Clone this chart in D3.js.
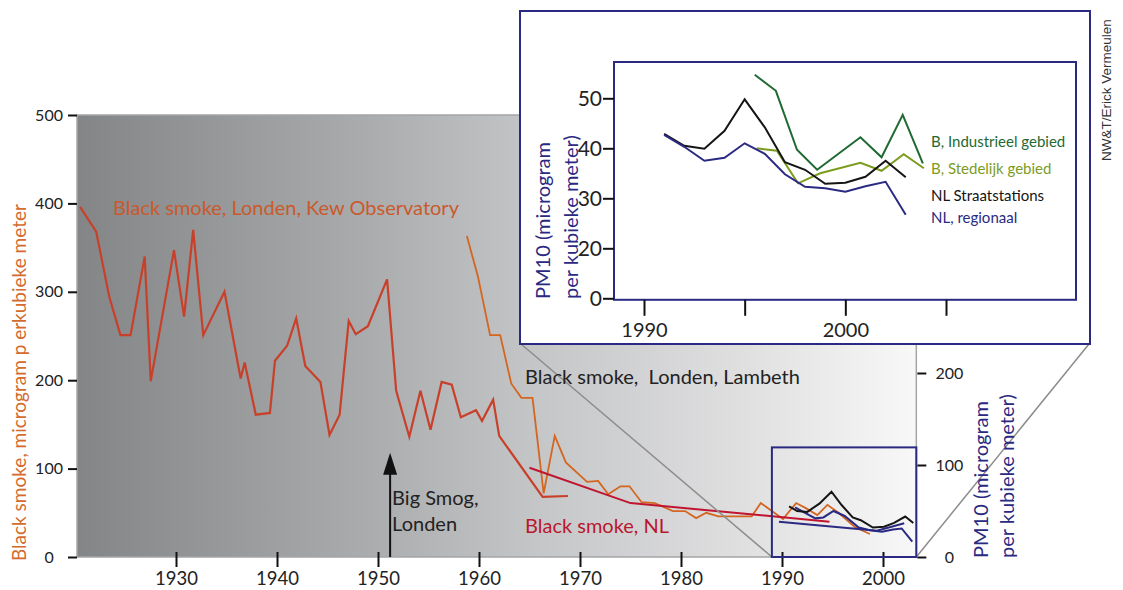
<!DOCTYPE html>
<html><head><meta charset="utf-8">
<script src="https://cdn.jsdelivr.net/npm/d3@7"></script>
<style>
body{margin:0;background:#fff;}
text{font-family:Lato,'Open Sans',sans-serif;}
</style>
</head><body>
<svg id="c" width="1123" height="590"></svg>
<script>
// ---- Data: main chart (black smoke, microgram per m3, left axis) ----
const kewYears = [1920.5,1922.1,1923.4,1924.5,1925.5,1926.9,1927.5,1929.8,1930.8,1931.7,1932.7,1934.8,1936.4,1936.8,1937.9,1939.3,1939.8,1941.0,1941.9,1942.8,1944.3,1945.2,1946.2,1947.1,1947.8,1949.0,1950.9,1951.8,1953.1,1954.2,1955.2,1956.3,1957.3,1958.2,1959.7,1960.3,1961.4,1962.0,1966.3,1968.8];
const kewValues = [396,368,294,251,251,340,199,347,272,370,251,300,202,220,161,163,222,239,270,216,198,138,161,267,252,261,314,188,136,188,144,198,195,158,166,154,178,137,68,69];

const lambethYears = [1958.8,1959.9,1961.1,1962.1,1963.2,1964.2,1965.3,1966.4,1967.5,1968.6,1970.7,1971.8,1972.8,1974.0,1974.9,1976.1,1977.4,1979.2,1980.4,1981.5,1982.5,1983.7,1987.0,1987.9,1990.1,1991.4,1992.4,1993.5,1994.5,1995.6,1997.2,1998.7];
const lambethValues = [363,317,251,251,196,180,180,72,137,107,85,86,71,80,80,62,61,52,52,44,50,46,46,61,43,61,55,47.5,59,50,34,26];

const nlYears = [1965,1975,1994.7];
const nlValues = [101,61,40];

// ---- Data: PM10 in main chart (right axis) ----
const straatMainYears = [1990.7,1991.5,1992.5,1993.7,1994.9,1995.9,1997.0,1997.8,1999.0,2000.1,2001.1,2002.2,2003.0];
const straatMainValues = [55,50,49,58,71,56.5,43,40,32,33,37,44,37];
const regionaalMainYears = [1991.3,1992.1,1993.3,1994.1,1995.1,1996.2,1997.6,1998.7,1999.9,2001.0,2001.85,2002.9];
const regionaalMainValues = [54,49,42,43,50,44.6,32,29,27.5,30,31,16.6];
const trendMainYears = [1989.7,1999.4,2002.1];
const trendMainValues = [38.4,28.6,36.6];

// ---- Data: inset (PM10) ----
const insetYears = [1991,1992,1993,1994,1995,1996,1997,1998,1999,2000,2001,2002,2003];
const straatValues = [42.9,40.5,39.9,43.5,49.8,44.2,37.2,35.7,32.9,33.1,34.3,37.5,34.2];
const regionaalValues = [42.7,40.3,37.5,38.1,41.0,38.9,34.8,32.3,32.0,31.3,32.4,33.3,26.7];
const industrieelYears = [1995.5,1996.55,1997.6,1998.6,2000.75,2001.8,2002.85,2003.85];
const industrieelValues = [54.7,51.5,39.7,35.7,42.2,38.2,46.7,37.0];
const stedelijkYears = [1995.6,1996.6,1997.65,1998.75,2000.75,2001.8,2002.9,2003.9];
const stedelijkValues = [40.0,39.5,33.0,35.0,37.1,35.5,38.8,36.0];

// ---- Ticks / labels ----
const mainXTicks = [1930,1940,1950,1960,1970,1980,1990,2000];
const mainYTicks = [0,100,200,300,400,500];
const rightYTicks = [0,100,200];
const insetYTicks = [0,20,30,40,50];
const insetXTicks = [1990,1995,2000,2005];
const insetXLabeled = [1990,2000];
const legendLabels = ["B, Industrieel gebied","B, Stedelijk gebied","NL Straatstations","NL, regionaal"];
const bigSmogYear = 1951.2;

// ---- Colours ----
const C = {kew:'#c9402a', lambeth:'#d4661f', nl:'#c01530', navy:'#2b2a82', black:'#151515',
           dgreen:'#1e6a32', lgreen:'#7c9c1e', kewText:'#c95a2c', axisTitle:'#d46b2e', grey:'#8c8c8c'};

const svg = d3.select('#c');
const x = d3.scaleLinear().domain([1920,2000]).range([75,883]);
const yL = d3.scaleLinear().domain([0,500]).range([557,115]);
const yR = d3.scaleLinear().domain([0,200]).range([557,373]);

// gradient background
const defs = svg.append('defs');
const grad = defs.append('linearGradient').attr('id','bg').attr('x1','0').attr('x2','1').attr('y1','0').attr('y2','0');
[[0,'#848587'],[0.35,'#abacae'],[0.55,'#c5c6c8'],[0.8,'#e0e0e1'],[1,'#f8f8f8']].forEach(s=>
  grad.append('stop').attr('offset',s[0]).attr('stop-color',s[1]));

const plotL = x(1920.2), plotR = x(2003.3);
svg.append('rect').attr('x',plotL).attr('y',yL(500)).attr('width',plotR-plotL).attr('height',yL(0)-yL(500))
  .attr('fill','url(#bg)').attr('stroke','#a5a5a5').attr('stroke-width',1.5);

const line = (xs, ys) => d3.line().x(d=>xs(d[0])).y(d=>ys(d[1]));
function drawLine(g, years, vals, xs, ys, color, w){
  g.append('path').datum(d3.zip(years, vals)).attr('d', line(xs,ys))
   .attr('fill','none').attr('stroke',color).attr('stroke-width',w||2).attr('stroke-linejoin','miter');
}

const main = svg.append('g');
drawLine(main, kewYears, kewValues, x, yL, C.kew, 2.2);
drawLine(main, lambethYears, lambethValues, x, yL, C.lambeth, 1.8);
drawLine(main, nlYears, nlValues, x, yL, C.nl, 2);
drawLine(main, trendMainYears, trendMainValues, x, yR, C.navy, 2);
drawLine(main, regionaalMainYears, regionaalMainValues, x, yR, C.navy, 2);
drawLine(main, straatMainYears, straatMainValues, x, yR, C.black, 2);

// axes
const ax = svg.append('g').attr('transform',`translate(0,${yL(0)})`)
  .call(d3.axisBottom(x).tickValues(mainXTicks).tickFormat(d3.format('d')).tickSize(10));
ax.select('.domain').remove();
ax.selectAll('.tick line').attr('y1',-5).attr('stroke','#111').attr('stroke-width',2);
ax.selectAll('.tick text').attr('y',28).attr('dy',0).style('font-size','18.5px').attr('fill','#222');

const ayl = svg.append('g').attr('transform',`translate(${plotL},0)`)
  .call(d3.axisLeft(yL).tickValues(mainYTicks).tickSize(9));
ayl.select('.domain').remove();
ayl.selectAll('.tick line').attr('stroke','#111').attr('stroke-width',2);
ayl.selectAll('.tick text').attr('x',-28).attr('text-anchor','middle').style('font-size','16px').attr('fill','#222');

const ayr = svg.append('g').attr('transform',`translate(${plotR+1},0)`)
  .call(d3.axisRight(yR).tickValues(rightYTicks).tickSize(9));
ayr.select('.domain').remove();
ayr.selectAll('.tick line').attr('stroke','#111').attr('stroke-width',2);
ayr.selectAll('.tick text').attr('x',32).attr('text-anchor','middle').style('font-size','16px').attr('fill','#222');

// zoom box and connectors
const zx0 = x(1989), zx1 = x(2003.3), zy0 = yL(124), zy1 = yL(0);
const inset = {l:520, t:11, r:1090, b:344};
svg.append('line').attr('x1',inset.l+1).attr('y1',inset.b).attr('x2',zx0).attr('y2',zy1)
  .attr('stroke',C.grey).attr('stroke-width',1.5);
svg.append('line').attr('x1',zx1).attr('y1',zy1).attr('x2',inset.r-1).attr('y2',inset.b)
  .attr('stroke',C.grey).attr('stroke-width',1.5);
svg.append('rect').attr('x',zx0).attr('y',zy0).attr('width',zx1-zx0).attr('height',zy1-zy0)
  .attr('fill','none').attr('stroke',C.navy).attr('stroke-width',2);

// Big Smog arrow
const axX = x(bigSmogYear);
svg.append('line').attr('x1',axX).attr('x2',axX).attr('y1',yL(0)).attr('y2',yL(95)).attr('stroke','#111').attr('stroke-width',2);
svg.append('path').attr('d',`M${axX},${yL(118)} L${axX-7},${yL(93)} L${axX+7},${yL(93)} Z`).attr('fill','#111');

// main texts
svg.append('text').attr('x',113).attr('y',215).text('Black smoke, Londen, Kew Observatory')
  .style('font-size','20px').attr('fill',C.kewText);
svg.append('text').attr('x',525).attr('y',384).text('Black smoke,  Londen, Lambeth')
  .style('font-size','20px').attr('fill','#222').style('white-space','pre');
svg.append('text').attr('x',axX+2).attr('y',505).text('Big Smog,').style('font-size','20px').attr('fill','#222');
svg.append('text').attr('x',axX+2).attr('y',531).text('Londen').style('font-size','20px').attr('fill','#222');
svg.append('text').attr('x',525).attr('y',533).text('Black smoke, NL').style('font-size','20px').attr('fill','#b8182e');

svg.append('text').attr('transform','translate(26,561) rotate(-90)').text('Black smoke, microgram p erkubieke meter')
  .style('font-size','19px').attr('fill',C.axisTitle);
svg.append('text').attr('transform','translate(988,558) rotate(-90)').text('PM10 (microgram')
  .style('font-size','20px').attr('fill',C.navy);
svg.append('text').attr('transform','translate(1014,558) rotate(-90)').text('per kubieke meter)')
  .style('font-size','20px').attr('fill',C.navy);

// ---- Inset ----
svg.append('rect').attr('x',inset.l).attr('y',inset.t).attr('width',inset.r-inset.l).attr('height',inset.b-inset.t)
  .attr('fill','#fff').attr('stroke',C.navy).attr('stroke-width',2);
const xi = d3.scaleLinear().domain([1990,2005]).range([644,946]);
const yi = d3.scaleLinear().domain([0,20,50]).range([298.3,248.3,98.3]);
svg.append('rect').attr('x',614).attr('y',62).attr('width',462).attr('height',yi(0)+1.5-62)
  .attr('fill','none').attr('stroke',C.navy).attr('stroke-width',2);

const ig = svg.append('g');
drawLine(ig, industrieelYears, industrieelValues, xi, yi, C.dgreen, 2);
drawLine(ig, stedelijkYears, stedelijkValues, xi, yi, C.lgreen, 2);
drawLine(ig, insetYears, straatValues, xi, yi, C.black, 2);
drawLine(ig, insetYears, regionaalValues, xi, yi, C.navy, 2);

const iyl = svg.append('g').attr('transform','translate(614,0)')
  .call(d3.axisLeft(yi).tickValues(insetYTicks).tickSize(11));
iyl.select('.domain').remove();
iyl.selectAll('.tick line').attr('stroke','#111').attr('stroke-width',2);
iyl.selectAll('.tick text').attr('x',-12).style('font-size','21px').attr('fill','#222');

const ixb = svg.append('g').attr('transform',`translate(0,${yi(0)+1.5})`)
  .call(d3.axisBottom(xi).tickValues(insetXTicks).tickSize(16)
    .tickFormat(d => insetXLabeled.includes(d) ? d3.format('d')(d) : ''));
ixb.select('.domain').remove();
ixb.selectAll('.tick line').attr('stroke','#111').attr('stroke-width',2);
ixb.selectAll('.tick text').attr('y',37).attr('dy',0).style('font-size','20px').attr('fill','#222');

svg.append('text').attr('transform','translate(550,299) rotate(-90)').text('PM10 (microgram')
  .style('font-size','20px').attr('fill',C.navy);
svg.append('text').attr('transform','translate(578,299) rotate(-90)').text('per kubieke meter)')
  .style('font-size','20px').attr('fill',C.navy);

const legendColors = [C.dgreen, C.lgreen, C.black, C.navy];
const legendY = [147,174,201,223];
legendLabels.forEach((t,i)=>{
  svg.append('text').attr('x',931).attr('y',legendY[i]).text(t).style('font-size','15px').attr('fill',legendColors[i]);
});

svg.append('text').attr('transform','translate(1111,161) rotate(-90)').text('NW&T/Erick Vermeulen')
  .style('font-family','"Liberation Sans",Arial,sans-serif').style('font-size','13.5px').attr('fill','#333');
</script>
</body></html>
